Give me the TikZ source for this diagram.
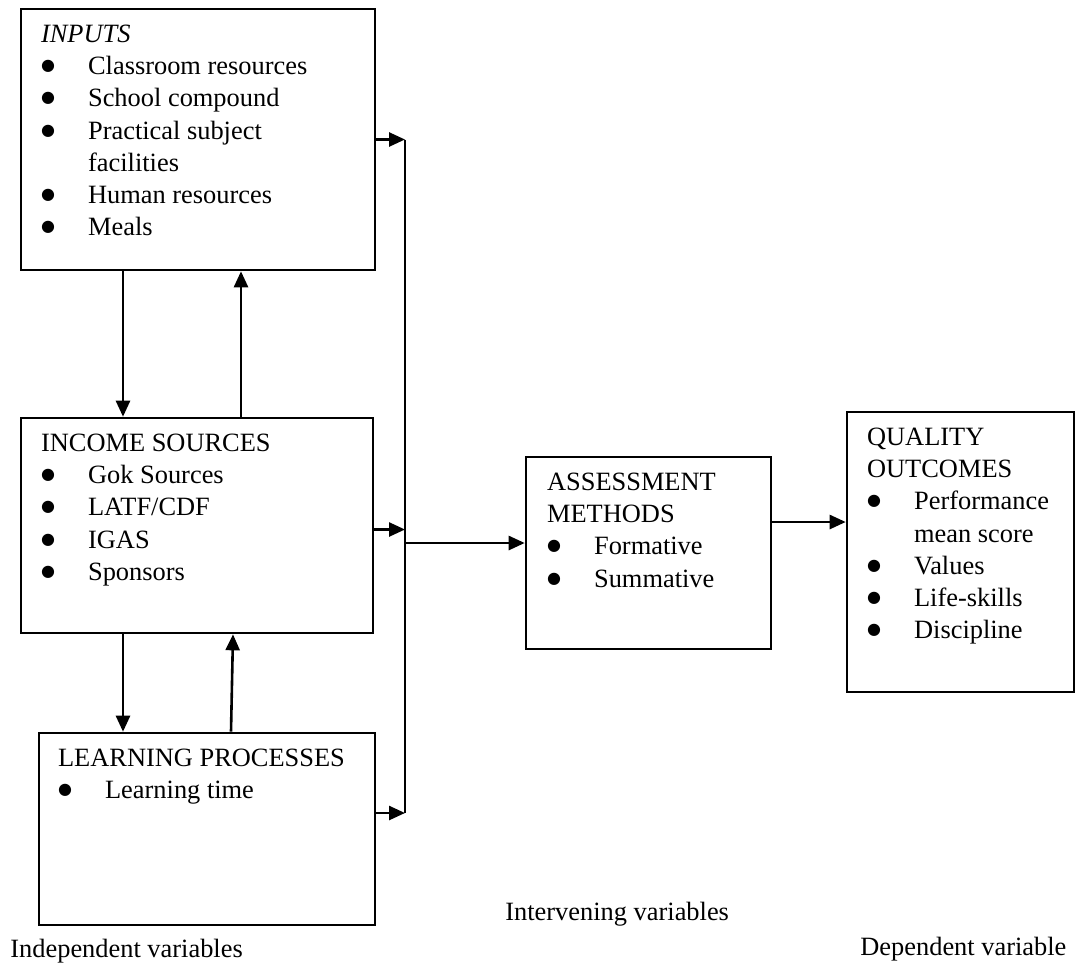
\documentclass[tikz,border=0pt]{standalone}
\usepackage{fontspec}
\setmainfont{Liberation Serif}
\newfontfamily\dotfont{DejaVu Sans}
\usetikzlibrary{arrows.meta}
\newcommand{\bitem}[1]{\makebox[23.5pt][l]{\raisebox{2pt}{\dotfont\fontsize{8}{8}\selectfont ●}}#1}
\newcommand{\firstline}{\rule{0pt}{17pt}}

\begin{document}
\begin{tikzpicture}[x=0.5pt, y=-0.5pt,
    box/.style={draw, line width=1.3pt, inner sep=0pt},
    boxtext/.style={anchor=north west, inner sep=0pt, align=left, font=\fontsize{13.2}{16.15}\selectfont},
    arr/.style={line width=1.3pt, -{Triangle[length=8pt,width=7pt]}},
    caption/.style={anchor=base west, inner sep=0pt, font=\fontsize{13.2}{16.15}\selectfont}]
\useasboundingbox (0,0) rectangle (1076,965);

% Boxes
\node[box, minimum width=177pt, minimum height=130.5pt] (inputs) at (198,139.5) {};
\node[box, minimum width=176pt, minimum height=107.5pt] (income) at (197,525.5) {};
\node[box, minimum width=168pt, minimum height=96pt] (learning) at (207,829) {};
\node[box, minimum width=122.5pt, minimum height=96pt] (assess) at (648.5,553) {};
\node[box, minimum width=113.5pt, minimum height=140pt] (quality) at (960.5,552) {};

% Box texts
\node[boxtext] (inputsText) at ([xshift=10.5pt]inputs.north west)
    {\firstline\textit{INPUTS}\\ \bitem{Classroom resources}\\ \bitem{School compound}\\
     \bitem{Practical subject}\\ \hspace*{23.5pt}facilities\\ \bitem{Human resources}\\ \bitem{Meals}};
\node[boxtext] (incomeText) at ([xshift=10.5pt]income.north west)
    {\firstline INCOME SOURCES\\ \bitem{Gok Sources}\\ \bitem{LATF/CDF}\\ \bitem{IGAS}\\ \bitem{Sponsors}};
\node[boxtext] (learningText) at ([xshift=10pt]learning.north west)
    {\firstline LEARNING PROCESSES\\ \bitem{Learning time}};
\node[boxtext] (assessText) at ([xshift=11pt]assess.north west)
    {\firstline ASSESSMENT\\ METHODS\\ \bitem{Formative}\\ \bitem{Summative}};
\node[boxtext] (qualityText) at ([xshift=10.5pt]quality.north west)
    {\firstline QUALITY\\ OUTCOMES\\ \bitem{Performance}\\ \hspace*{23.5pt}mean score\\
     \bitem{Values}\\ \bitem{Life-skills}\\ \bitem{Discipline}};

% Positions of the links
\coordinate (dnA) at (123,0);
\coordinate (upA) at (241,0);
\coordinate (upB) at (231,0);
\coordinate (upC) at (233,0);
\coordinate (bus) at (405,0);
\coordinate (busBot) at (405,813);
\coordinate (join) at (405,543);
\coordinate (aq) at (771,522);

% Links between the left boxes
\draw[arr] (dnA |- inputs.south) -- (dnA |- income.north);
\draw[arr] (upA |- income.north) -- (upA |- inputs.south);
\draw[arr] (dnA |- income.south) -- (dnA |- learning.north);
\draw[arr] (upB |- learning.north) -- (upC |- income.south);

% Links into the bus line
\draw[line width=1.3pt] (bus |- inputs.east) -- (busBot);
\draw[arr] (inputs.east) -- (inputs.east -| bus);
\draw[arr] ([yshift=-2pt]income.east) -- ([yshift=-2pt]income.east -| bus);
\draw[arr] (learning.east |- busBot) -- (busBot);
\draw[arr] (join) -- (join -| assess.west);
\draw[arr] (aq -| assess.east) -- (aq -| quality.west);

% Captions
\node[caption] (indep) at (10,957) {Independent variables};
\node[caption] (interv) at (505,920) {Intervening variables};
\node[caption] (dep) at (860,955) {Dependent variable};
\end{tikzpicture}
\end{document}
